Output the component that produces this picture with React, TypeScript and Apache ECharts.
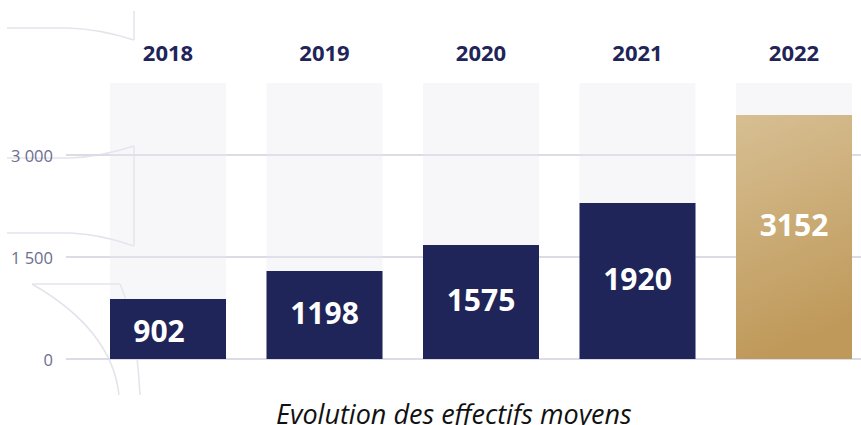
import React, { useEffect, useRef } from "react";
import * as echarts from "echarts";

const years = ["2018", "2019", "2020", "2021", "2022"];
// values printed on the bars
const effectifs = [902, 1198, 1575, 1920, 3152];
const barHeights = [882, 1294, 1676, 2294, 3588];
const yMin = 0;
const yInterval = 1500;
const yLabelMax = 3000;
const backgroundMax = 4060;
const caption = "Evolution des effectifs moyens";

const NAVY = "#1f2459";
const DECO = "#e3e3eb";
const OPEN = "'Open Sans'";

function fmt(v: number): string {
  return String(v).replace(/\B(?=(\d{3})+(?!\d))/g, " ");
}

export default function App() {
  const ref = useRef<HTMLDivElement>(null);
  useEffect(() => {
    if (!ref.current) return;
    const chart = echarts.init(ref.current, undefined, { renderer: "svg" });
    const gold = new echarts.graphic.LinearGradient(0, 0, 0.2, 1, [
      { offset: 0, color: "#d7bf93" },
      { offset: 1, color: "#bf995a" },
    ]);
    const deco = (shape: any, type = "line") => ({
      type,
      shape,
      silent: true,
      z: -1,
      style: { stroke: DECO, lineWidth: 1.5, fill: null },
    });
    const option: any = {
      animation: false,
      backgroundColor: "#ffffff",
      title: {
        text: caption,
        left: 271,
        top: 395,
        textStyle: {
          fontFamily: OPEN,
          fontStyle: "italic",
          fontWeight: "normal",
          fontSize: 27,
          color: "#111111",
        },
      },
      graphic: [
        deco({ x1: 7, y1: 28, x2: 68, y2: 28 }),
        deco({ x1: 68, y1: 28, x2: 134, y2: 40, cpx1: 100, cpy1: 29 }, "bezierCurve"),
        deco({ x1: 134, y1: 11, x2: 134, y2: 40 }),
        deco({ x1: 7, y1: 158, x2: 70, y2: 158 }),
        deco({ x1: 70, y1: 158, x2: 134, y2: 146, cpx1: 100, cpy1: 157 }, "bezierCurve"),
        deco({ x1: 134, y1: 146, x2: 134, y2: 246 }),
        deco({ x1: 134, y1: 246, x2: 70, y2: 233, cpx1: 100, cpy1: 234 }, "bezierCurve"),
        deco({ x1: 70, y1: 233, x2: 7, y2: 233 }),
        deco({ x1: 32, y1: 284, x2: 120, y2: 284 }),
        deco({ x1: 120, y1: 284, x2: 140, y2: 395, cpx1: 136, cpy1: 320 }, "bezierCurve"),
        deco({ x1: 32, y1: 284, x2: 119, y2: 395, cpx1: 112, cpy1: 330 }, "bezierCurve"),
      ],
      grid: [
        { left: 89.75, right: 0.75, top: 83, bottom: 66 },
        { left: 66, right: 12, top: 155, bottom: 66 },
      ],
      xAxis: [
        {
          type: "category",
          gridIndex: 0,
          position: "top",
          data: years,
          axisLine: { show: false },
          axisTick: { show: false },
          axisLabel: {
            margin: 20,
            color: NAVY,
            fontFamily: OPEN,
            fontWeight: "bold",
            fontSize: 22,
          },
        },
        { type: "value", gridIndex: 1, show: false, min: 0, max: 1 },
      ],
      yAxis: [
        { type: "value", gridIndex: 0, min: yMin, max: backgroundMax, show: false },
        {
          type: "value",
          gridIndex: 1,
          min: yMin,
          max: yLabelMax,
          interval: yInterval,
          axisLine: { show: false },
          axisTick: { show: false },
          axisLabel: {
            formatter: (v: number) => fmt(v),
            margin: 13,
            color: "#6a6e90",
            fontFamily: OPEN,
            fontSize: 16.5,
          },
          splitLine: { lineStyle: { color: "#dcdce6", width: 2 } },
        },
      ],
      series: [
        {
          type: "bar",
          xAxisIndex: 0,
          yAxisIndex: 0,
          barWidth: 116,
          showBackground: true,
          backgroundStyle: { color: "rgba(232,232,240,0.36)" },
          data: barHeights.map((h, i) => {
            const item: any = {
              value: h,
              itemStyle: { color: i === years.length - 1 ? gold : NAVY },
            };
            if (i === 0) item.label = { offset: [-9, 1] };
            else if (i === years.length - 1)
              item.label = { position: ["50%", "45%"], align: "center", verticalAlign: "middle" };
            else item.label = { offset: [0, -3] };
            return item;
          }),
          label: {
            show: true,
            position: "inside",
            formatter: (p: any) => String(effectifs[p.dataIndex]),
            color: "#ffffff",
            fontFamily: OPEN,
            fontWeight: "bold",
            fontSize: 30,
          },
        },
      ],
    };
    chart.setOption(option);
    return () => chart.dispose();
  }, []);
  return (
    <div
      ref={ref}
      style={{ position: "fixed", left: 0, top: 0, width: 873, height: 425 }}
    />
  );
}
